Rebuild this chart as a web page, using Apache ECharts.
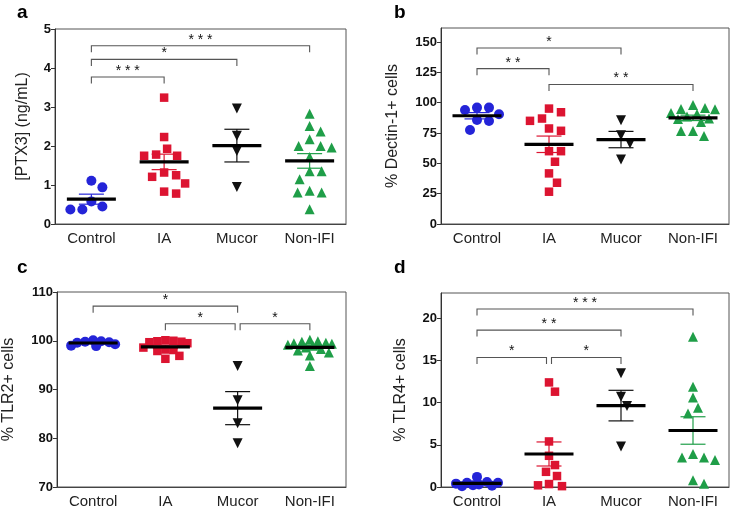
<!DOCTYPE html>
<html><head><meta charset="utf-8">
<script src="https://cdn.jsdelivr.net/npm/echarts@6/dist/echarts.min.js"></script>
<style>html,body{margin:0;padding:0;background:#fff}#c{width:734px;height:509px}</style>
</head><body><div id="c"></div>
<script>
const categories = ['Control', 'IA', 'Mucor', 'Non-IFI'];

// Panel a: [PTX3] (ng/mL)
const aControl = [1.11, 0.94, 0.58, 0.45, 0.37, 0.37];
const aIA = [3.24, 2.23, 1.93, 1.78, 1.75, 1.75, 1.32, 1.25, 1.21, 1.04, 0.83, 0.78];
const aMucor = [2.96, 2.26, 1.87, 0.95];
const aNonIFI = [2.83, 2.51, 2.37, 2.17, 2.0, 1.96, 2.0, 1.72, 1.35, 1.35, 1.15, 0.85, 0.81, 0.81, 0.38];
// Panel b: % Dectin-1+ cells
const bControl = [95.9, 95.9, 94.0, 90.4, 85.7, 84.9, 77.5];
const bIA = [95.1, 92.1, 86.9, 85.0, 78.7, 76.8, 60.0, 60.0, 51.3, 41.7, 34.0, 26.6];
const bMucor = [85.5, 73.2, 66.4, 53.2];
const bNonIFI = [98.0, 95.5, 94.5, 94.8, 91.5, 90.7, 88.5, 87.0, 86.6, 84.1, 76.7, 76.7, 72.5];
// Panel c: % TLR2+ cells
const cControl = [100.1, 99.9, 99.8, 99.7, 99.6, 99.3, 99.0, 98.9];
const cIA = [100.1, 100.0, 99.9, 99.8, 99.7, 99.5, 98.6, 98.2, 98.1, 97.9, 96.9, 96.3];
const cMucor = [94.8, 87.8, 83.1, 79.0];
const cNonIFI = [100.2, 99.9, 99.8, 99.6, 99.5, 99.4, 99.2, 99.0, 98.6, 98.3, 98.0, 97.6, 97.0, 94.8];
// Panel d: % TLR4+ cells
const dControl = [1.2, 0.6, 0.5, 0.5, 0.4, 0.3, 0.2, 0.15, 0.1];
const dIA = [12.4, 11.3, 5.4, 3.7, 2.6, 1.8, 1.3, 0.35, 0.2, 0.1];
const dMucor = [13.5, 10.7, 9.6, 4.8];
const dNonIFI = [17.8, 11.9, 10.6, 9.4, 8.7, 3.9, 3.5, 3.5, 3.2, 0.8, 0.4];

// Tick labels
const aTicks = [0, 1, 2, 3, 4, 5];
const bTicks = [0, 25, 50, 75, 100, 125, 150];
const cTicks = [70, 80, 90, 100, 110];
const dTicks = [0, 5, 10, 15, 20];

// Y axis titles
const yTitles = ['[PTX3] (ng/mL)', '% Dectin-1+ cells', '% TLR2+ cells', '% TLR4+ cells'];
const panelLetters = ['a', 'b', 'c', 'd'];

// Significance brackets: [from group, to group, height (axis units), label]
const aBrackets = [[0, 1, 3.77, '* * *'], [0, 2, 4.22, '*'], [0, 3, 4.57, '* * *']];
const bBrackets = [[0, 1, 128, '* *'], [0, 2, 145, '*'], [1, 3, 114.9, '* *']];
const cBrackets = [[0, 2, 107.1, '*'], [1, 2, 103.5, '*'], [2, 3, 103.5, '*']];
const dBrackets = [[0, 1, 15.35, '*'], [1, 2, 15.35, '*'], [0, 2, 18.6, '* *'], [0, 3, 21.1, '* * *']];

// ---------- layout / style ----------
const FONT = 'Liberation Sans, Arial, sans-serif';
const groupColors = ['#2424d8', '#dc1431', '#111111', '#1f9e48'];
const groupSymbols = ['circle', 'rect', 'triangle', 'triangle'];
const groupRotate = [0, 0, 180, 0];
const groupSize = [10, 8.5, 10, 10];

const panels = [
  { groups: [aControl, aIA, aMucor, aNonIFI], ticks: aTicks, brackets: aBrackets, min: 0, max: 5,
    grid: { left: 55, top: 29, width: 291, height: 195 }, nameGap: 24, swarmD: 12,
    letter: { left: 12, top: -2 } },
  { groups: [bControl, bIA, bMucor, bNonIFI], ticks: bTicks, brackets: bBrackets, min: 0, max: 161.5,
    grid: { left: 441, top: 28, width: 288, height: 196 }, nameGap: 40, swarmD: 12,
    letter: { left: 389, top: -2 } },
  { groups: [cControl, cIA, cMucor, cNonIFI], ticks: cTicks, brackets: cBrackets, min: 70, max: 110,
    grid: { left: 55, top: 292, width: 291, height: 196 }, nameGap: 40, swarmD: 8,
    letter: { left: 12, top: 253 } },
  { groups: [dControl, dIA, dMucor, dNonIFI], ticks: dTicks, brackets: dBrackets, min: 0, max: 23,
    grid: { left: 441, top: 293, width: 288, height: 195 }, nameGap: 32, swarmD: 11,
    letter: { left: 389, top: 253 } }
];
const SWARM_HALF_WIDTH = 22;

function swarm(values, pxPerUnit, d) {
  const order = values.map((v, i) => i).sort((i, j) => values[j] - values[i]);
  const placed = [];
  const off = new Array(values.length).fill(0);
  for (const i of order) {
    const y = values[i] * pxPerUnit;
    let bestCand = 0, bestDist = -1, found = false;
    for (let k = 0; k <= 2 * SWARM_HALF_WIDTH; k++) {
      const cand = (k % 2 ? 1 : -1) * Math.ceil(k / 2);
      let minD = Infinity;
      for (const p of placed) {
        const dx = p[0] - cand, dy = p[1] - y;
        minD = Math.min(minD, Math.sqrt(dx * dx + dy * dy));
      }
      if (minD >= d) { bestCand = cand; found = true; break; }
      if (minD > bestDist) { bestDist = minD; bestCand = cand; }
    }
    off[i] = bestCand; placed.push([bestCand, y]);
  }
  return off;
}

function stats(vals) {
  const n = vals.length;
  const m = vals.reduce((s, v) => s + v, 0) / n;
  const sd = Math.sqrt(vals.reduce((s, v) => s + (v - m) * (v - m), 0) / (n - 1));
  return [m, sd / Math.sqrt(n)];
}

const option = { animation: false, backgroundColor: '#fff', title: [], grid: [], xAxis: [], yAxis: [], series: [] };

panels.forEach((P, pi) => {
  option.title.push({ text: panelLetters[pi], left: P.letter.left, top: P.letter.top,
    textStyle: { fontFamily: FONT, fontSize: 19, fontWeight: 'bold', color: '#000' } });
  option.grid.push(Object.assign({ show: true, borderColor: '#555', borderWidth: 1, backgroundColor: 'transparent' }, P.grid));
  option.xAxis.push({
    type: 'category', gridIndex: pi, data: categories, boundaryGap: true,
    axisLine: { show: true, lineStyle: { color: '#444', width: 1 } },
    axisTick: { show: false },
    axisLabel: { fontFamily: FONT, fontSize: 15, color: '#222', margin: 7 },
    splitLine: { show: false }
  });
  option.yAxis.push({
    type: 'value', gridIndex: pi, min: P.min, max: P.max,
    name: yTitles[pi], nameLocation: 'middle', nameGap: P.nameGap, nameRotate: 90,
    nameTextStyle: { fontFamily: FONT, fontSize: 16, color: '#222' },
    axisLine: { show: true, lineStyle: { color: '#333', width: 1 } },
    axisTick: { show: true, length: 4, inside: false, customValues: P.ticks, lineStyle: { color: '#333' } },
    axisLabel: { fontFamily: FONT, fontSize: 13, fontWeight: 'bold', color: '#111', margin: 4, customValues: P.ticks },
    splitLine: { show: false }
  });
  const ppu = P.grid.height / (P.max - P.min);
  P.groups.forEach((vals, gi) => {
    const off = swarm(vals, ppu, P.swarmD);
    option.series.push({
      type: 'scatter', xAxisIndex: pi, yAxisIndex: pi, z: 2,
      symbol: groupSymbols[gi], symbolSize: groupSize[gi], symbolRotate: groupRotate[gi],
      itemStyle: { color: groupColors[gi], opacity: 1 },
      data: vals.map((v, k) => ({ value: [gi, v], symbolOffset: [off[k], 0] }))
    });
  });
  const meanData = P.groups.map((vals, gi) => { const s = stats(vals); return [gi, s[0], s[1]]; });
  option.series.push({
    type: 'custom', xAxisIndex: pi, yAxisIndex: pi, z: 5, clip: false,
    data: meanData,
    renderItem: function (params, api) {
      const i = api.value(0), m = api.value(1), s = api.value(2);
      const c = api.coord([i, m]), t = api.coord([i, m + s]), b = api.coord([i, m - s]);
      const col = groupColors[i];
      const ls = { stroke: col, lineWidth: 1.2 };
      return { type: 'group', children: [
        { type: 'line', shape: { x1: c[0], y1: t[1], x2: c[0], y2: b[1] }, style: ls },
        { type: 'line', shape: { x1: c[0] - 12.5, y1: t[1], x2: c[0] + 12.5, y2: t[1] }, style: ls },
        { type: 'line', shape: { x1: c[0] - 12.5, y1: b[1], x2: c[0] + 12.5, y2: b[1] }, style: ls },
        { type: 'line', shape: { x1: c[0] - 24.5, y1: c[1], x2: c[0] + 24.5, y2: c[1] }, style: { stroke: '#000', lineWidth: 3.2 } }
      ] };
    }
  });
  const br = P.brackets;
  option.series.push({
    type: 'custom', xAxisIndex: pi, yAxisIndex: pi, z: 6, clip: false,
    data: br.map(r => [r[0], r[1], r[2]]),
    renderItem: function (params, api) {
      const r = br[params.dataIndex];
      const p1 = api.coord([r[0], r[2]]), p2 = api.coord([r[1], r[2]]);
      let x1 = p1[0], x2 = p2[0];
      br.forEach((o, j) => {
        if (j === params.dataIndex || Math.abs(o[2] - r[2]) > 1e-9) return;
        if (o[0] === r[1]) x2 -= 2.5;
        if (o[1] === r[0]) x1 += 2.5;
      });
      const y = p1[1];
      return { type: 'group', children: [
        { type: 'polyline', shape: { points: [[x1, y + 6.5], [x1, y], [x2, y], [x2, y + 6.5]] },
          style: { stroke: '#555', lineWidth: 1.1, fill: null } },
        { type: 'text', style: { text: r[3], x: (x1 + x2) / 2, y: y + 1, align: 'center', verticalAlign: 'bottom',
          font: '14px ' + FONT, fill: '#111' } }
      ] };
    }
  });
});

const chart = echarts.init(document.getElementById('c'), null, { renderer: 'canvas' });
chart.setOption(option);
</script>
</body></html>
